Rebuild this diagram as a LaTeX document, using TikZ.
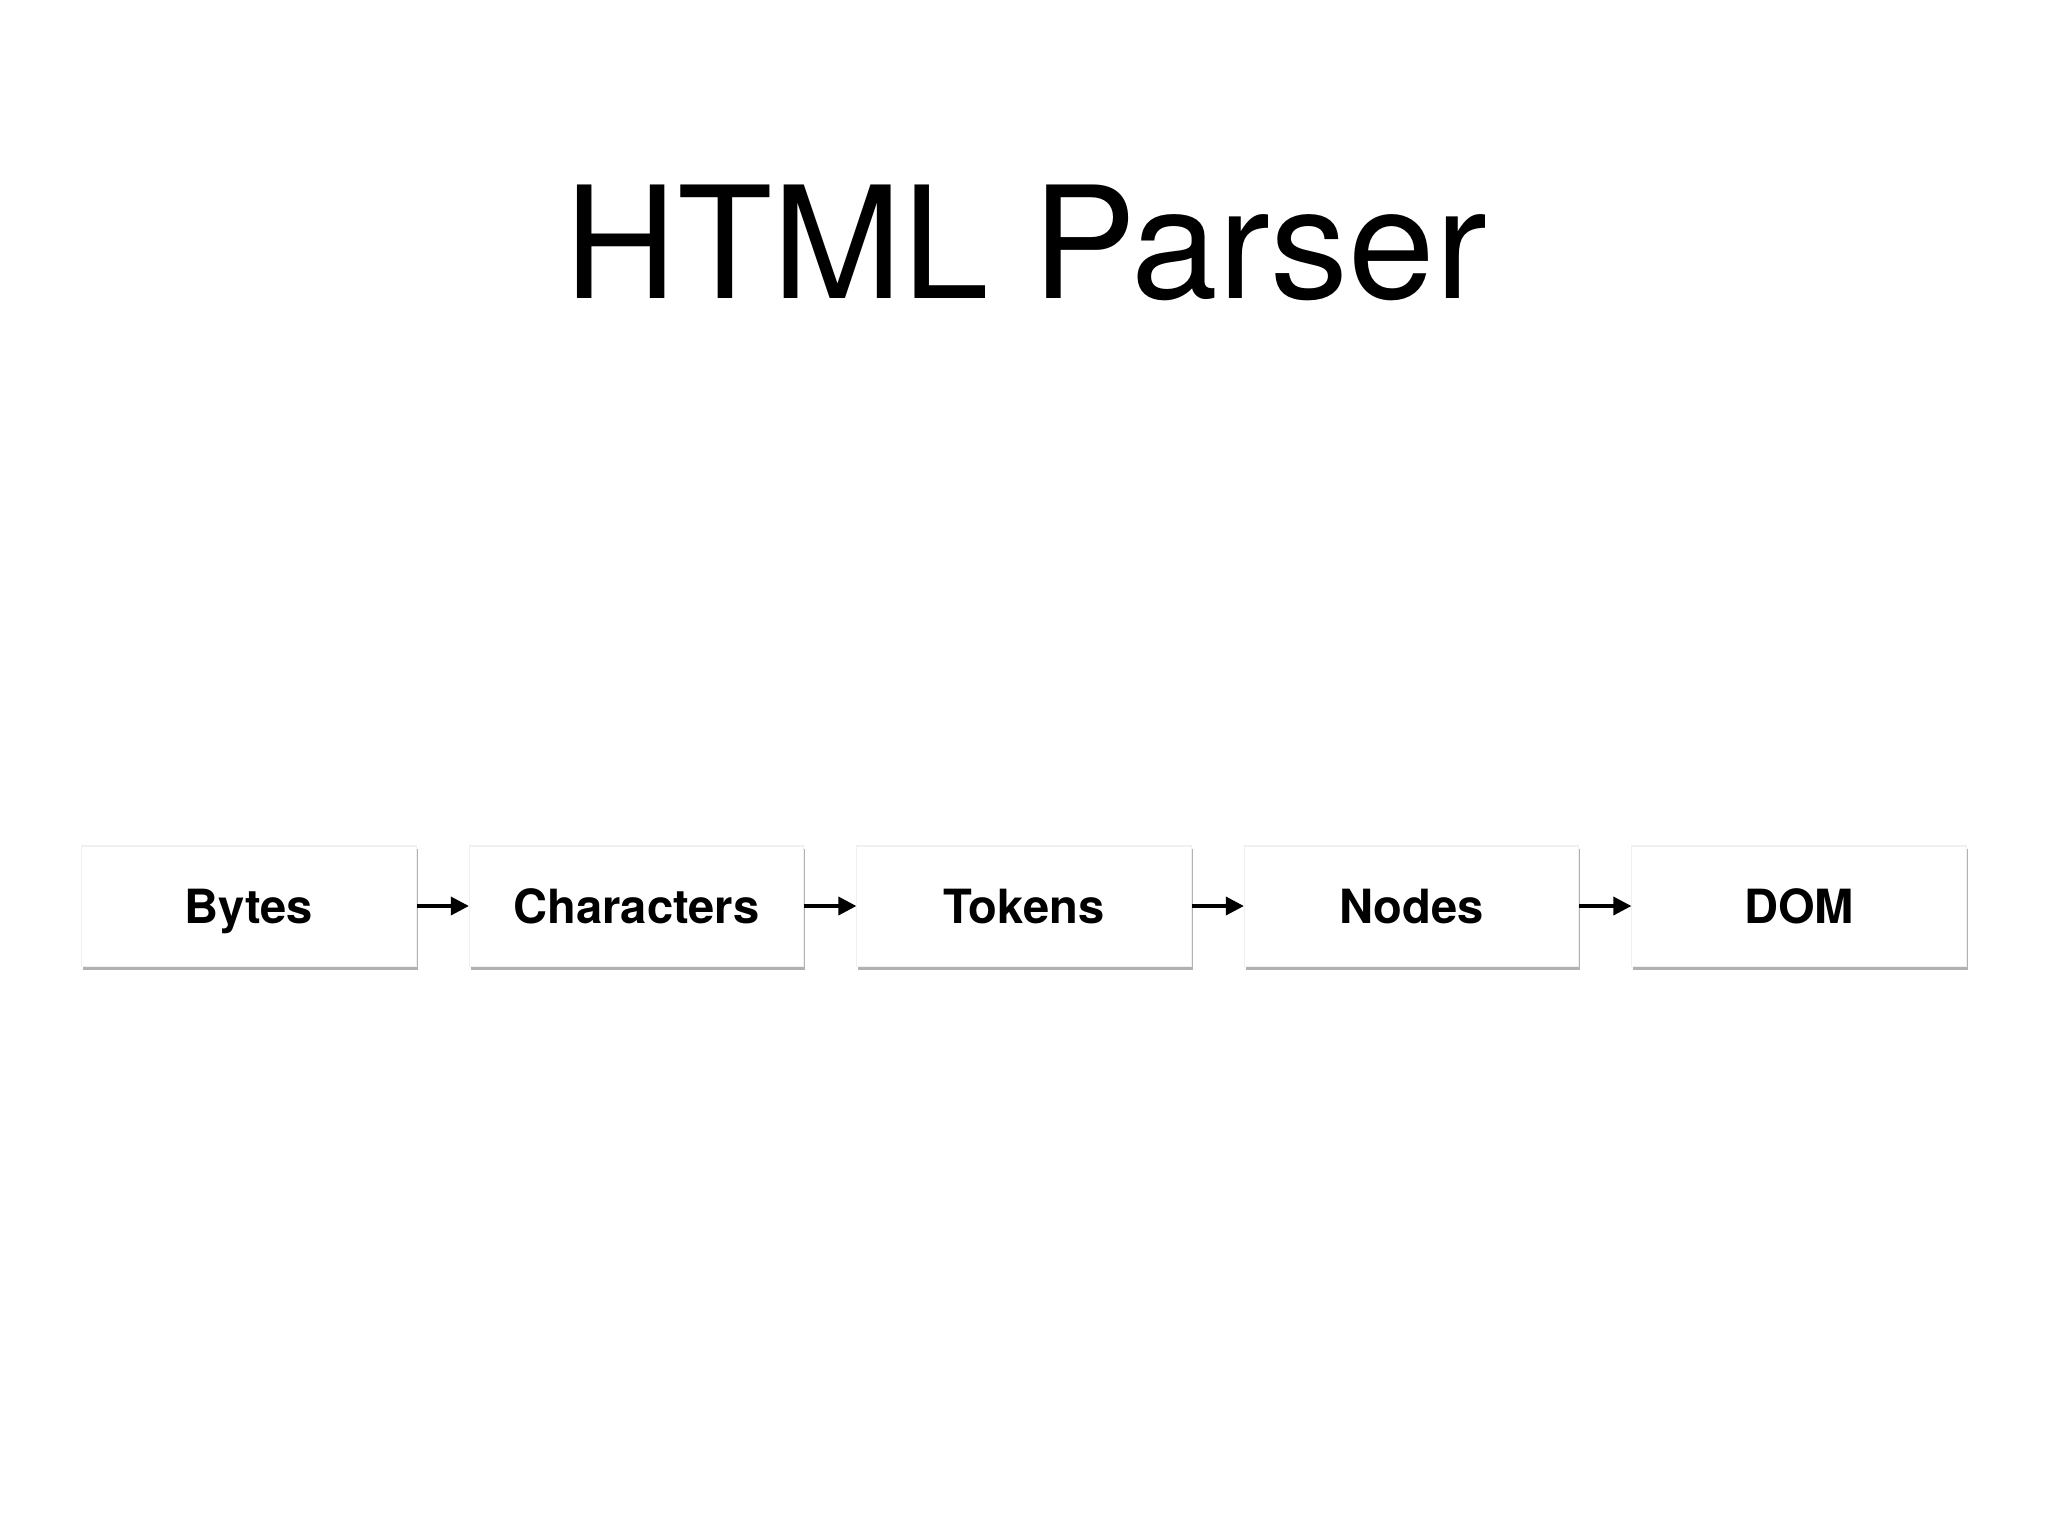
\documentclass[tikz,border=0pt]{standalone}
\usepackage{fontspec}
\setmainfont{TeX Gyre Heros}
\usetikzlibrary{arrows.meta,shadows}
\begin{document}
\begin{tikzpicture}[x=0.01cm,y=-0.01cm,
  stage/.style={draw=black!6, line width=0.3pt, fill=white,
    minimum width=3.34cm, minimum height=1.2cm, inner sep=0pt,
    text height=0.34cm, text depth=0pt,
    font=\fontsize{13.4pt}{16pt}\selectfont\bfseries,
    drop shadow={shadow xshift=0.015cm, shadow yshift=-0.035cm, fill=black, opacity=0.3}},
  flow/.style={-{Triangle[length=0.18cm,width=0.18cm]}, line width=0.035cm}]
\useasboundingbox[fill=white] (0,0) rectangle (2048,1536);
\node (title) [anchor=base, font=\fontsize{44.3pt}{54pt}\selectfont] at (1026,298) {HTML Parser};
\node[stage] (bytes) at (249,906) {Bytes};
\node[stage] (chars) at (636.5,906) {Characters};
\node[stage] (tokens) at (1024,906) {Tokens};
\node[stage] (nodes) at (1411.5,906) {Nodes};
\node[stage] (dom) at (1799,906) {DOM};
\draw[flow] (bytes) -- (chars);
\draw[flow] (chars) -- (tokens);
\draw[flow] (tokens) -- (nodes);
\draw[flow] (nodes) -- (dom);
\end{tikzpicture}
\end{document}
